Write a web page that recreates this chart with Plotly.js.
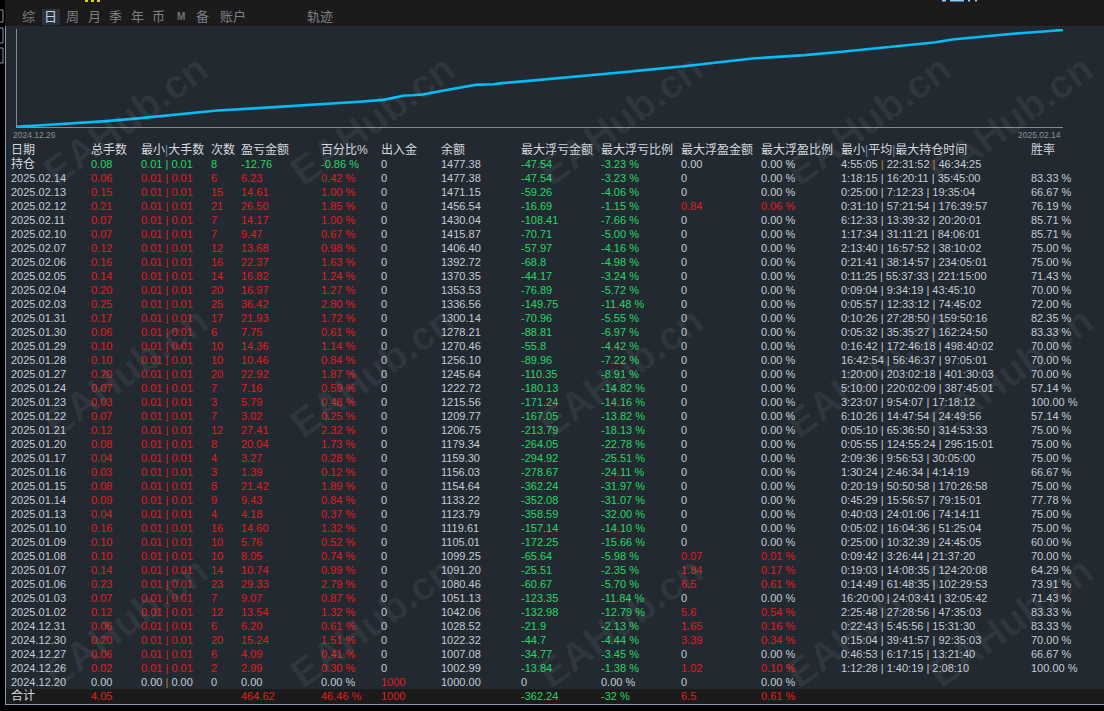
<!DOCTYPE html>
<html><head><meta charset="utf-8">
<script src="https://cdn.plot.ly/plotly-3.0.1.min.js"></script>
<style>html,body{margin:0;padding:0;background:#232931;overflow:hidden}</style>
</head><body><div id="chart" style="width:1104px;height:711px"></div>
<script>
// ---------------- DATA (display order, newest first) ----------------
const dates = ['2025.02.14','2025.02.13','2025.02.12','2025.02.11','2025.02.10','2025.02.07','2025.02.06','2025.02.05','2025.02.04','2025.02.03','2025.01.31','2025.01.30','2025.01.29','2025.01.28','2025.01.27','2025.01.24','2025.01.23','2025.01.22','2025.01.21','2025.01.20','2025.01.17','2025.01.16','2025.01.15','2025.01.14','2025.01.13','2025.01.10','2025.01.09','2025.01.08','2025.01.07','2025.01.06','2025.01.03','2025.01.02','2024.12.31','2024.12.30','2024.12.27','2024.12.26','2024.12.20'];
const lots = [0.06,0.15,0.21,0.07,0.07,0.12,0.16,0.14,0.20,0.25,0.17,0.06,0.10,0.10,0.20,0.07,0.03,0.07,0.12,0.08,0.04,0.03,0.08,0.09,0.04,0.16,0.10,0.10,0.14,0.23,0.07,0.12,0.06,0.20,0.06,0.02,0.00];
const minLot = [0.01,0.01,0.01,0.01,0.01,0.01,0.01,0.01,0.01,0.01,0.01,0.01,0.01,0.01,0.01,0.01,0.01,0.01,0.01,0.01,0.01,0.01,0.01,0.01,0.01,0.01,0.01,0.01,0.01,0.01,0.01,0.01,0.01,0.01,0.01,0.01,0.00];
const maxLot = [0.01,0.01,0.01,0.01,0.01,0.01,0.01,0.01,0.01,0.01,0.01,0.01,0.01,0.01,0.01,0.01,0.01,0.01,0.01,0.01,0.01,0.01,0.01,0.01,0.01,0.01,0.01,0.01,0.01,0.01,0.01,0.01,0.01,0.01,0.01,0.01,0.00];
const counts = [6,15,21,7,7,12,16,14,20,25,17,6,10,10,20,7,3,7,12,8,4,3,8,9,4,16,10,10,14,23,7,12,6,20,6,2,0];
const pnl = [6.23,14.61,26.50,14.17,9.47,13.68,22.37,16.82,16.97,36.42,21.93,7.75,14.36,10.46,22.92,7.16,5.79,3.02,27.41,20.04,3.27,1.39,21.42,9.43,4.18,14.60,5.76,8.05,10.74,29.33,9.07,13.54,6.20,15.24,4.09,2.99,0.00];
const pct = [0.42,1.00,1.85,1.00,0.67,0.98,1.63,1.24,1.27,2.80,1.72,0.61,1.14,0.84,1.87,0.59,0.48,0.25,2.32,1.73,0.28,0.12,1.89,0.84,0.37,1.32,0.52,0.74,0.99,2.79,0.87,1.32,0.61,1.51,0.41,0.30,0.00];
const deposit = [0,0,0,0,0,0,0,0,0,0,0,0,0,0,0,0,0,0,0,0,0,0,0,0,0,0,0,0,0,0,0,0,0,0,0,0,1000];
const balance = [1477.38,1471.15,1456.54,1430.04,1415.87,1406.40,1392.72,1370.35,1353.53,1336.56,1300.14,1278.21,1270.46,1256.10,1245.64,1222.72,1215.56,1209.77,1206.75,1179.34,1159.30,1156.03,1154.64,1133.22,1123.79,1119.61,1105.01,1099.25,1091.20,1080.46,1051.13,1042.06,1028.52,1022.32,1007.08,1002.99,1000.00];
const floatLoss = [-47.54,-59.26,-16.69,-108.41,-70.71,-57.97,-68.8,-44.17,-76.89,-149.75,-70.96,-88.81,-55.8,-89.96,-110.35,-180.13,-171.24,-167.05,-213.79,-264.05,-294.92,-278.67,-362.24,-352.08,-358.59,-157.14,-172.25,-65.64,-25.51,-60.67,-123.35,-132.98,-21.9,-44.7,-34.77,-13.84,0];
const floatLossPct = [-3.23,-4.06,-1.15,-7.66,-5.00,-4.16,-4.98,-3.24,-5.72,-11.48,-5.55,-6.97,-4.42,-7.22,-8.91,-14.82,-14.16,-13.82,-18.13,-22.78,-25.51,-24.11,-31.97,-31.07,-32.00,-14.10,-15.66,-5.98,-2.35,-5.70,-11.84,-12.79,-2.13,-4.44,-3.45,-1.38,0.00];
const floatProfit = [0,0,0.84,0,0,0,0,0,0,0,0,0,0,0,0,0,0,0,0,0,0,0,0,0,0,0,0,0.07,1.84,6.5,0,5.6,1.65,3.39,0,1.02,0];
const floatProfitPct = [0,0,0.06,0,0,0,0,0,0,0,0,0,0,0,0,0,0,0,0,0,0,0,0,0,0,0,0,0.01,0.17,0.61,0,0.54,0.16,0.34,0,0.10,0];
const holdTimes = ['1:18:15|16:20:11|35:45:00','0:25:00|7:12:23|19:35:04','0:31:10|57:21:54|176:39:57','6:12:33|13:39:32|20:20:01','1:17:34|31:11:21|84:06:01','2:13:40|16:57:52|38:10:02','0:21:41|38:14:57|234:05:01','0:11:25|55:37:33|221:15:00','0:09:04|9:34:19|43:45:10','0:05:57|12:33:12|74:45:02','0:10:26|27:28:50|159:50:16','0:05:32|35:35:27|162:24:50','0:16:42|172:46:18|498:40:02','16:42:54|56:46:37|97:05:01','1:20:00|203:02:18|401:30:03','5:10:00|220:02:09|387:45:01','3:23:07|9:54:07|17:18:12','6:10:26|14:47:54|24:49:56','0:05:10|65:36:50|314:53:33','0:05:55|124:55:24|295:15:01','2:09:36|9:56:53|30:05:00','1:30:24|2:46:34|4:14:19','0:20:19|50:50:58|170:26:58','0:45:29|15:56:57|79:15:01','0:40:03|24:01:06|74:14:11','0:05:02|16:04:36|51:25:04','0:25:00|10:32:39|24:45:05','0:09:42|3:26:44|21:37:20','0:19:03|14:08:35|124:20:08','0:14:49|61:48:35|102:29:53','16:20:00|24:03:41|32:05:42','2:25:48|27:28:56|47:35:03','0:22:43|5:45:56|15:31:30','0:15:04|39:41:57|92:35:03','0:46:53|6:17:15|13:21:40','1:12:28|1:40:19|2:08:10',''];
const winRate = [83.33,66.67,76.19,85.71,85.71,75.00,75.00,71.43,70.00,72.00,82.35,83.33,70.00,70.00,70.00,57.14,100.00,57.14,75.00,75.00,75.00,66.67,75.00,77.78,75.00,75.00,60.00,70.00,64.29,73.91,71.43,83.33,83.33,70.00,66.67,100.00,null];

// open-position (持仓) row
const holdRow = {lots:0.08, minLot:0.01, maxLot:0.01, count:8, pnl:-12.76, pct:-0.86, deposit:0, balance:1477.38,
  floatLoss:-47.54, floatLossPct:-3.23, floatProfit:0, floatProfitPct:0, time:'4:55:05|22:31:52|46:34:25'};
// totals (合计) row
const totalRow = {lots:4.05, pnl:464.62, pct:46.46, deposit:1000, floatLoss:-362.24, floatLossPct:-32, floatProfit:6.5, floatProfitPct:0.61};

const headers = ['日期','总手数','最小|大手数','次数','盈亏金额','百分比%','出入金','余额','最大浮亏金额','最大浮亏比例','最大浮盈金额','最大浮盈比例','最小|平均|最大持仓时间','胜率'];
const tabs = ['综','日','周','月','季','年','币','M','备','账户','轨迹'];
const firstDateLabel = '2024.12.26', lastDateLabel = '2025.02.14';

// ---------------- STYLE ----------------
const W = 1104, H = 711;
const px = x => x / W, py = y => 1 - y / H;
const BG = '#232931', BAR = '#1b1b1b';
const RED = '#e21b1f', GREEN = '#22d864', GRAY = '#c3cbd6', HEAD = '#d3d8df', ORANGE = '#c27b2c', SEPBLUE = '#5f8ab8';
const FONT = 'Liberation Sans, Noto Sans CJK SC, sans-serif';
const colX = [11, 91, 141, 211, 241, 321, 381, 441, 521, 601, 681, 761, 841, 1031];
const tabX = [28, 50, 72, 94, 115, 137, 158, 181, 202, 233, 320];

const f2 = v => v.toFixed(2);
const pctF = v => v.toFixed(2) + ' %';
const sc = v => v > 0 ? RED : (v < 0 ? GREEN : GRAY);
const bar = c => c ? '<span style="color:' + c + '">|</span>' : '|';
const lotsPair = (a, b, c) => f2(a) + ' ' + bar(c) + ' ' + f2(b);
const timeF = (s, c) => s ? s.split('|').join(' ' + bar(c) + ' ') : '';
const headF = h => h.split('|').join('<span style="color:' + SEPBLUE + '">|</span>');

// ---------------- EQUITY CURVE (chronological) ----------------
const chronoBal = balance.slice().reverse();
const chronoCnt = counts.slice().reverse();
const tradeIdx = [];
chronoCnt.reduce((acc, c) => { const n = acc + c; tradeIdx.push(n); return n; }, 0);
const lastIdx = tradeIdx[tradeIdx.length - 1];

const traces = [{
  type: 'scatter', mode: 'lines', x: tradeIdx, y: chronoBal,
  xaxis: 'x', yaxis: 'y', line: {color: '#00bdf8', width: 2.6}, hoverinfo: 'skip'
}];

// ---------------- TABLE (as text traces) ----------------
const nCols = headers.length;
const cols = [];
for (let c = 0; c < nCols; c++) cols.push({t: [], col: [], sz: []});
function push(c, t, color, size) { cols[c].t.push(t); cols[c].col.push(color); cols[c].sz.push(size || 11); }

headers.forEach((h, c) => push(c, headF(h), HEAD, 12));
const hr = holdRow, hc = sc(hr.pnl);
push(0, '持仓', HEAD, 12);
push(1, f2(hr.lots), hc);
push(2, lotsPair(hr.minLot, hr.maxLot), hc);
push(3, String(hr.count), hc);
push(4, f2(hr.pnl), hc);
push(5, pctF(hr.pct), hc);
push(6, String(hr.deposit), hr.deposit > 0 ? RED : GRAY);
push(7, f2(hr.balance), GRAY);
push(8, String(hr.floatLoss), sc(hr.floatLoss));
push(9, pctF(hr.floatLossPct), sc(hr.floatLossPct));
push(10, f2(hr.floatProfit), sc(hr.floatProfit));
push(11, pctF(hr.floatProfitPct), sc(hr.floatProfitPct));
push(12, timeF(hr.time, ORANGE), GRAY);
push(13, '', GRAY);
dates.forEach((d, i) => {
  const pc = sc(pnl[i]);
  push(0, d, GRAY);
  push(1, f2(lots[i]), pc);
  push(2, lotsPair(minLot[i], maxLot[i], pnl[i] === 0 ? ORANGE : null), pc);
  push(3, String(counts[i]), pc);
  push(4, f2(pnl[i]), pc);
  push(5, pctF(pct[i]), pc);
  push(6, String(deposit[i]), deposit[i] > 0 ? RED : GRAY);
  push(7, f2(balance[i]), GRAY);
  push(8, String(floatLoss[i]), sc(floatLoss[i]));
  push(9, pctF(floatLossPct[i]), sc(floatLossPct[i]));
  push(10, String(floatProfit[i]), sc(floatProfit[i]));
  push(11, pctF(floatProfitPct[i]), sc(floatProfitPct[i]));
  push(12, timeF(holdTimes[i]), GRAY);
  push(13, winRate[i] == null ? '' : pctF(winRate[i]), GRAY);
});
const tr = totalRow;
push(0, '合计', HEAD, 12);
push(1, f2(tr.lots), sc(tr.lots));
push(2, '', GRAY);
push(3, '', GRAY);
push(4, f2(tr.pnl), sc(tr.pnl));
push(5, pctF(tr.pct), sc(tr.pct));
push(6, String(tr.deposit), sc(tr.deposit));
push(7, '', GRAY);
push(8, String(tr.floatLoss), sc(tr.floatLoss));
push(9, String(tr.floatLossPct) + ' %', sc(tr.floatLossPct));
push(10, String(tr.floatProfit), sc(tr.floatProfit));
push(11, String(tr.floatProfitPct) + ' %', sc(tr.floatProfitPct));
push(12, '', GRAY);
push(13, '', GRAY);

const nRows = cols[0].t.length;
const rowIdx = cols[0].t.map((_, i) => i);
cols.forEach((cd, c) => {
  traces.push({
    type: 'scatter', mode: 'text', xaxis: 'x2', yaxis: 'y2',
    x: rowIdx.map(() => colX[c]), y: rowIdx, text: cd.t,
    textposition: 'middle right', cliponaxis: false,
    textfont: {family: FONT, size: cd.sz, color: cd.col}, hoverinfo: 'skip'
  });
});

// ---------------- DECOR ----------------
const shapes = [
  {type:'rect', xref:'paper', yref:'paper', x0:0, x1:1, y0:py(26), y1:1, fillcolor:BAR, line:{width:0}, layer:'below'},
  {type:'rect', xref:'paper', yref:'paper', x0:px(42), x1:px(60), y0:py(25), y1:py(9), fillcolor:'#29323e', line:{width:0}, layer:'below'},
  {type:'rect', xref:'paper', yref:'paper', x0:px(6), x1:1, y0:py(704), y1:py(689), fillcolor:BAR, line:{width:0}, layer:'below'},
  {type:'rect', xref:'paper', yref:'paper', x0:0, x1:px(5), y0:0, y1:1, fillcolor:'#000', line:{width:0}, layer:'below'},
  {type:'rect', xref:'paper', yref:'paper', x0:0, x1:1, y0:0, y1:py(705), fillcolor:'#000', line:{width:0}, layer:'below'},
  {type:'line', xref:'paper', yref:'paper', x0:px(5.5), x1:px(5.5), y0:py(26), y1:py(704.5), line:{color:'#8e9aab', width:1}},
  {type:'line', xref:'paper', yref:'paper', x0:px(5), x1:1, y0:py(704.5), y1:py(704.5), line:{color:'#8e9aab', width:1}},
  {type:'rect', xref:'paper', yref:'paper', x0:px(-4), x1:px(3), y0:py(22), y1:py(10), line:{color:'#8c98a8', width:1}},
  {type:'rect', xref:'paper', yref:'paper', x0:px(-4), x1:px(3), y0:py(43), y1:py(28), line:{color:'#8c98a8', width:1}},
  {type:'rect', xref:'paper', yref:'paper', x0:px(-4), x1:px(3), y0:py(63), y1:py(48), line:{color:'#8c98a8', width:1}},
  {type:'rect', xref:'paper', yref:'paper', x0:px(85), x1:px(88), y0:py(2), y1:1, fillcolor:'#e6cf00', line:{width:0}},
  {type:'rect', xref:'paper', yref:'paper', x0:px(91), x1:px(94), y0:py(2), y1:1, fillcolor:'#e6cf00', line:{width:0}},
  {type:'rect', xref:'paper', yref:'paper', x0:px(97), x1:px(100), y0:py(2), y1:1, fillcolor:'#e6cf00', line:{width:0}},
  {type:'rect', xref:'paper', yref:'paper', x0:px(942), x1:px(946), y0:py(1.5), y1:1, fillcolor:'#8fc8ff', line:{width:0}},
  {type:'rect', xref:'paper', yref:'paper', x0:px(950), x1:px(964), y0:py(1.5), y1:1, fillcolor:'#8fc8ff', line:{width:0}},
  {type:'rect', xref:'paper', yref:'paper', x0:px(968), x1:px(970), y0:py(1.5), y1:1, fillcolor:'#8fc8ff', line:{width:0}},
  {type:'rect', xref:'paper', yref:'paper', x0:px(975), x1:px(977), y0:py(1.5), y1:1, fillcolor:'#8fc8ff', line:{width:0}}
];

const annotations = [];
tabs.forEach((t, i) => annotations.push({
  xref:'paper', yref:'paper', x:px(tabX[i]), y:py(17), text: t === 'M' ? '<b>M</b>' : t, showarrow:false,
  xanchor:'center', yanchor:'middle',
  font:{family:FONT, size: t === 'M' ? 10 : 13, color: t === '日' ? '#c9d1dd' : (t === 'M' ? '#7a6e72' : '#7b8087')}
}));
annotations.push({xref:'x', yref:'y', x:0, y:1000, text:firstDateLabel, showarrow:false, xanchor:'left', yanchor:'top', xshift:-6, yshift:-1, font:{family:FONT, size:8.5, color:'#8a9099'}});
annotations.push({xref:'x', yref:'y', x:lastIdx, y:1000, text:lastDateLabel, showarrow:false, xanchor:'right', yanchor:'top', xshift:0, yshift:-1, font:{family:FONT, size:8.5, color:'#8a9099'}});
// watermarks
[120, 372, 622].forEach(wy => [125, 372, 620, 868, 1010].forEach(wx => annotations.push({
  xref:'paper', yref:'paper', x:px(wx), y:py(wy), text:'<b>EAHub.cn</b>', showarrow:false, textangle:-36,
  xanchor:'center', yanchor:'middle', font:{family:FONT, size:40, color:'rgba(255,255,255,0.06)'}
})));

const layout = {
  width: W, height: H, margin:{l:0, r:0, t:0, b:0}, paper_bgcolor: BG, plot_bgcolor:'rgba(0,0,0,0)',
  showlegend:false, hovermode:false,
  xaxis:{domain:[px(17), px(1063)], range:[0, lastIdx], anchor:'y', showgrid:false, zeroline:false, showticklabels:false,
         ticks:'', showline:true, linecolor:'#8a8a8a', linewidth:1, layer:'below traces', fixedrange:true},
  yaxis:{domain:[py(127), py(29)], range:[999.5, 1482], anchor:'x', showgrid:false, zeroline:false, showticklabels:false,
         ticks:'', showline:true, linecolor:'#8a8a8a', linewidth:1, layer:'below traces', fixedrange:true},
  xaxis2:{domain:[0, 1], range:[0, W], anchor:'y2', visible:false, fixedrange:true},
  yaxis2:{domain:[py(704.5), py(144)], range:[nRows - 0.5, -0.5], anchor:'x2', visible:false, fixedrange:true},
  shapes, annotations
};
Plotly.newPlot('chart', traces, layout, {staticPlot:true, displayModeBar:false});
</script></body></html>
